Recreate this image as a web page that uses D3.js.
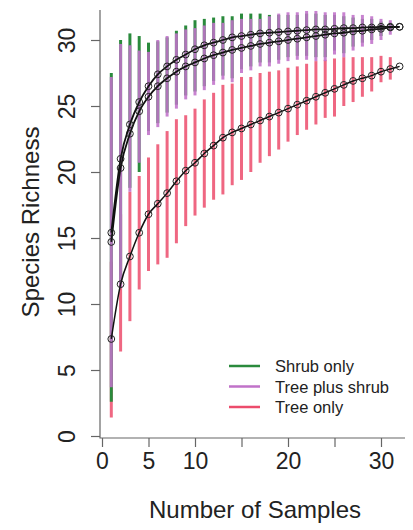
<!DOCTYPE html>
<html>
<head>
<meta charset="utf-8">
<script src="https://cdnjs.cloudflare.com/ajax/libs/d3/7.8.5/d3.min.js"></script>
<style>
  html, body { margin: 0; padding: 0; background: #fff; }
  text { font-family: "Liberation Sans", Arial, sans-serif; fill: #222; }
</style>
</head>
<body>
<svg id="chart" width="413" height="530"></svg>
<script>
// ---------- data ----------
const samples = d3.range(1, 33);
const seriesNames = ["Shrub only", "Tree plus shrub", "Tree only"];
const seriesColors = ["#2a8a3c", "#c072c9", "#ec4c6c"];

const shrubMean = [15.4, 21.0, 23.6, 25.3, 26.5, 27.4, 28.0, 28.5, 28.9, 29.3, 29.6, 29.8, 30.0, 30.2, 30.3, 30.4,
                   30.5, 30.55, 30.6, 30.65, 30.7, 30.75, 30.8, 30.8, 30.85, 30.9, 30.9, 30.95, 30.95, 31.0, 31.0, 31.0];
const shrubLow  = [2.6, 11.5, 18.8, 20.0, 23.1, 23.7, 24.5, 25.1, 25.8, 26.1, 26.5, 26.9, 27.3, 27.1, 27.8, 28.0,
                   28.3, 28.3, 28.5, 28.7, 28.8, 28.8, 28.7, 28.7, 29.2, 29.0, 29.5, 29.8, 30.0, 30.3, 30.7, 31.0];
const shrubHigh = [27.5, 30.0, 30.5, 30.3, 29.8, 29.9, 30.2, 30.7, 31.1, 31.5, 31.6, 31.7, 31.8, 31.8, 32.0, 32.0,
                   32.0, 31.9, 31.9, 31.9, 31.9, 32.0, 32.0, 31.9, 31.9, 31.8, 31.7, 31.6, 31.6, 31.4, 31.3, 31.0];

const plusMean = [14.7, 20.3, 22.9, 24.6, 25.7, 26.5, 27.1, 27.6, 28.0, 28.3, 28.6, 28.85, 29.05, 29.25, 29.4, 29.55,
                  29.7, 29.8, 29.9, 30.0, 30.1, 30.2, 30.3, 30.4, 30.5, 30.55, 30.65, 30.7, 30.8, 30.85, 30.95, 31.0];
const plusLow  = [3.7, 11.2, 18.5, 20.7, 22.8, 23.4, 24.2, 24.8, 25.5, 25.8, 26.2, 26.6, 27.0, 26.8, 27.5, 27.7,
                  28.0, 28.0, 28.2, 28.4, 28.5, 28.5, 28.4, 28.4, 28.9, 28.7, 29.2, 29.5, 29.7, 30.0, 30.4, 31.0];
const plusHigh = [27.2, 29.7, 29.6, 29.2, 29.1, 30.0, 30.3, 30.5, 30.8, 30.9, 31.1, 31.3, 31.3, 31.5, 31.6, 31.6,
                  31.6, 31.8, 32.0, 32.1, 32.1, 32.2, 32.2, 32.1, 32.1, 32.1, 31.9, 31.9, 31.8, 31.6, 31.5, 31.0];

const treeMean = [7.35, 11.5, 13.6, 15.4, 16.8, 17.6, 18.4, 19.3, 20.1, 20.7, 21.4, 22.0, 22.6, 23.0, 23.3, 23.6,
                  23.9, 24.2, 24.5, 24.8, 25.1, 25.4, 25.7, 26.0, 26.3, 26.6, 26.9, 27.1, 27.3, 27.6, 27.8, 28.0];
const treeLow  = [1.4, 6.4, 8.7, 11.1, 12.5, 13.0, 13.5, 14.6, 15.9, 16.7, 17.3, 17.9, 18.3, 19.0, 19.4, 20.0,
                  20.7, 21.2, 21.7, 22.3, 22.8, 23.2, 23.6, 24.1, 24.2, 25.0, 25.3, 25.7, 26.1, 26.8, 27.0, 28.0];
const treeHigh = [13.2, 16.8, 18.5, 19.7, 21.1, 22.1, 23.1, 24.0, 24.3, 24.8, 25.5, 26.0, 26.6, 26.7, 27.2, 27.2,
                  27.5, 27.6, 27.7, 27.9, 28.0, 28.2, 28.4, 28.5, 28.6, 28.7, 28.7, 28.7, 28.7, 28.8, 28.7, 28.0];

const xTicks = [0, 5, 10, 15, 20, 25, 30];
const xTickLabels = ["0", "5", "10", "", "20", "", "30"];
const yTicks = [0, 5, 10, 15, 20, 25, 30];
const yTickLabels = ["0", "5", "10", "15", "20", "25", "30"];

// ---------- layout ----------
const svg = d3.select("#chart");
const x = d3.scaleLinear().domain([0, 30]).range([102, 381]);
const y = d3.scaleLinear().domain([0, 30]).range([436, 40]);

// frame (L-shaped box)
svg.append("path")
  .attr("d", d3.line()([[100, 10], [100, 438], [405, 438]]))
  .attr("fill", "none").attr("stroke", "#666").attr("stroke-width", 1.2);

// x axis
const xAxis = svg.append("g").attr("transform", "translate(0,438)")
  .call(d3.axisBottom(x).tickValues(xTicks).tickSize(9).tickPadding(6)
        .tickFormat((d, i) => xTickLabels[i]));
xAxis.select(".domain").remove();
xAxis.selectAll(".tick line").attr("stroke", "#666").attr("stroke-width", 1.2);
xAxis.selectAll(".tick text").attr("font-size", 23).attr("fill", "#222")
  .attr("font-family", "Liberation Sans, Arial, sans-serif");

// y axis
const yAxis = svg.append("g").attr("transform", "translate(100,0)")
  .call(d3.axisLeft(y).tickValues(yTicks).tickSize(9)
        .tickFormat((d, i) => yTickLabels[i]));
yAxis.select(".domain").remove();
yAxis.selectAll(".tick line").attr("stroke", "#666").attr("stroke-width", 1.2);
yAxis.selectAll(".tick text")
  .attr("font-size", 23).attr("fill", "#222")
  .attr("font-family", "Liberation Sans, Arial, sans-serif")
  .attr("transform", "rotate(-90)")
  .attr("text-anchor", "middle")
  .attr("x", 0).attr("y", -25).attr("dy", 0);

// axis titles
svg.append("text").attr("x", 255).attr("y", 518).attr("text-anchor", "middle")
  .attr("font-size", 24).text("Number of Samples");
svg.append("text").attr("transform", "translate(39,222) rotate(-90)")
  .attr("text-anchor", "middle").attr("font-size", 24).text("Species Richness");

// ---------- error bars ----------
const series = [
  { name: seriesNames[0], color: seriesColors[0], mean: shrubMean, lo: shrubLow, hi: shrubHigh, op: 1 },
  { name: seriesNames[1], color: seriesColors[1], mean: plusMean, lo: plusLow, hi: plusHigh, op: 0.88 },
  { name: seriesNames[2], color: seriesColors[2], mean: treeMean, lo: treeLow, hi: treeHigh, op: 0.85 }
];
const drawOrder = [series[2], series[0], series[1]];
drawOrder.forEach(s => {
  svg.append("g").selectAll("line").data(samples).join("line")
    .attr("x1", (d) => x(d)).attr("x2", (d) => x(d))
    .attr("y1", (d, i) => y(s.lo[i])).attr("y2", (d, i) => y(s.hi[i]))
    .attr("stroke", s.color).attr("stroke-width", 3).attr("stroke-opacity", s.op);
});

// ---------- mean curves ----------
const line = d3.line().x((d) => x(d[0])).y((d) => y(d[1])).curve(d3.curveMonotoneX);
[series[2], series[1], series[0]].forEach((s, k) => {
  const pts = samples.map((d, i) => [d, s.mean[i]]);
  svg.append("path").datum(pts).attr("d", line)
    .attr("fill", "none").attr("stroke", "#111").attr("stroke-width", k === 0 ? 1.5 : 1.8);
  svg.append("g").selectAll("circle").data(pts).join("circle")
    .attr("cx", (d) => x(d[0])).attr("cy", (d) => y(d[1])).attr("r", 3.4)
    .attr("fill", "none").attr("stroke", "#222").attr("stroke-width", 1);
});

// ---------- legend ----------
const legend = svg.append("g");
series.forEach((s, i) => {
  const ly = 366 + i * 20.5;
  legend.append("line").attr("x1", 229).attr("x2", 260).attr("y1", ly).attr("y2", ly)
    .attr("stroke", s.color).attr("stroke-width", 2.5);
  legend.append("text").attr("x", 275).attr("y", ly + 6).attr("font-size", 16.5).text(s.name);
});
</script>
</body>
</html>
